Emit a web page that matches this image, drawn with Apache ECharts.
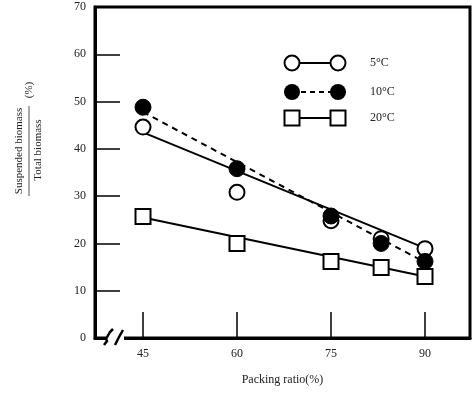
<!DOCTYPE html>
<html>
<head>
<meta charset="utf-8">
<script src="https://cdn.jsdelivr.net/npm/echarts@6/dist/echarts.min.js"></script>
<style>
html, body { margin: 0; padding: 0; background: #fff; }
#chart { width: 476px; height: 406px; }
</style>
</head>
<body>
<div id="chart"></div>
<script>
// packing ratio (%) where samples were taken
var ratios = [45, 60, 75, 83, 90]
var xTicks = [45, 60, 75, 90]
// suspended / total biomass (%)
var t5 = [44.6, 30.8, 24.8, 21.0, 18.9]
var t10 = [48.8, 35.8, 25.8, 20.0, 16.2]
var t20 = [25.7, 20.0, 16.2, 14.9, 13.0]
// fitted lines, start and end values
var fitX = [45, 90]
var fit5 = [43.5, 19.0]
var fit10 = [47.8, 16.0]
var fit20 = [25.5, 13.0]
var labels = ['5°C', '10°C', '20°C']

function pairs(xs, ys) {
  return xs.map(function (x, i) { return [x, ys[i]] })
}

var font = 'Liberation Serif'
var chart = echarts.init(document.getElementById('chart'))

var open = { color: '#fff', borderColor: '#000', borderWidth: 2, opacity: 1 }
var filled = { color: '#000', borderColor: '#000', borderWidth: 1, opacity: 1 }

chart.setOption({
  animation: false,
  grid: {
    left: 95, right: 6, top: 7, bottom: 68,
    show: true, borderColor: '#000', borderWidth: 3
  },
  xAxis: {
    type: 'value',
    min: 37.34, max: 97.18,
    name: 'Packing ratio(%)',
    nameLocation: 'middle',
    nameGap: 36,
    nameTextStyle: { fontFamily: font, fontSize: 12, color: '#222' },
    axisLine: { show: true, lineStyle: { color: '#000', width: 3 } },
    axisTick: { show: true, inside: true, length: 26, customValues: xTicks, lineStyle: { color: '#000', width: 1.5 } },
    axisLabel: { customValues: xTicks, margin: 10, fontFamily: font, fontSize: 12, color: '#222' },
    splitLine: { show: false }
  },
  yAxis: {
    type: 'value',
    min: 0, max: 70, interval: 10,
    axisLine: { show: true, lineStyle: { color: '#000', width: 3 } },
    axisTick: { show: true, inside: true, length: 25, lineStyle: { color: '#000', width: 1.5 } },
    axisLabel: { margin: 9, fontFamily: font, fontSize: 12, color: '#222' },
    splitLine: { show: false }
  },
  series: [
    {
      type: 'line', data: pairs(fitX, fit5), showSymbol: false, z: 1,
      lineStyle: { color: '#000', width: 2 }
    },
    {
      type: 'line', data: pairs(fitX, fit10), showSymbol: false, z: 1,
      lineStyle: { color: '#000', width: 2, type: [6, 5] }
    },
    {
      type: 'line', data: pairs(fitX, fit20), showSymbol: false, z: 1,
      lineStyle: { color: '#000', width: 2 }
    },
    {
      name: labels[0], type: 'scatter', data: pairs(ratios, t5), z: 3,
      symbol: 'circle', symbolSize: 15, itemStyle: open
    },
    {
      name: labels[1], type: 'scatter', data: pairs(ratios, t10), z: 4,
      symbol: 'circle', symbolSize: 16, itemStyle: filled
    },
    {
      name: labels[2], type: 'scatter', data: pairs(ratios, t20), z: 3,
      symbol: 'rect', symbolSize: 15, itemStyle: open
    }
  ],
  graphic: [
    // legend
    { type: 'line', shape: { x1: 292, y1: 63, x2: 338, y2: 63 }, style: { stroke: '#000', lineWidth: 2 } },
    { type: 'circle', shape: { cx: 292, cy: 63, r: 7.5 }, style: { fill: '#fff', stroke: '#000', lineWidth: 2 } },
    { type: 'circle', shape: { cx: 338, cy: 63, r: 7.5 }, style: { fill: '#fff', stroke: '#000', lineWidth: 2 } },
    { type: 'text', x: 370, y: 63, style: { text: labels[0], font: '12px "Liberation Serif"', fill: '#222', verticalAlign: 'middle' } },
    { type: 'line', shape: { x1: 292, y1: 92, x2: 338, y2: 92 }, style: { stroke: '#000', lineWidth: 2, lineDash: [5, 4] } },
    { type: 'circle', shape: { cx: 292, cy: 92, r: 8 }, style: { fill: '#000' } },
    { type: 'circle', shape: { cx: 338, cy: 92, r: 8 }, style: { fill: '#000' } },
    { type: 'text', x: 370, y: 92, style: { text: labels[1], font: '12px "Liberation Serif"', fill: '#222', verticalAlign: 'middle' } },
    { type: 'line', shape: { x1: 292, y1: 118, x2: 338, y2: 118 }, style: { stroke: '#000', lineWidth: 2 } },
    { type: 'rect', shape: { x: 284.5, y: 110.5, width: 15, height: 15 }, style: { fill: '#fff', stroke: '#000', lineWidth: 2 } },
    { type: 'rect', shape: { x: 330.5, y: 110.5, width: 15, height: 15 }, style: { fill: '#fff', stroke: '#000', lineWidth: 2 } },
    { type: 'text', x: 370, y: 118, style: { text: labels[2], font: '12px "Liberation Serif"', fill: '#222', verticalAlign: 'middle' } },
    // axis break marks
    { type: 'rect', shape: { x: 106, y: 335, width: 18, height: 6 }, style: { fill: '#fff' }, z: 100 },
    { type: 'polyline', shape: { points: [[106, 339], [110, 332], [113, 329]] }, style: { stroke: '#000', lineWidth: 2.5, fill: null }, z: 101 },
    { type: 'polyline', shape: { points: [[104, 345], [107, 341], [106, 339]] }, style: { stroke: '#000', lineWidth: 2.5, fill: null }, z: 101 },
    { type: 'polyline', shape: { points: [[115, 345], [119, 337], [123, 330]] }, style: { stroke: '#000', lineWidth: 2.5, fill: null }, z: 101 },
    // y-axis title as a fraction
    { type: 'text', x: 19, y: 151, rotation: Math.PI / 2, style: { text: 'Suspended biomass', font: '11px "Liberation Serif"', fill: '#222', align: 'center', verticalAlign: 'middle' } },
    { type: 'line', shape: { x1: 29, y1: 106, x2: 29, y2: 196 }, style: { stroke: '#555', lineWidth: 1 } },
    { type: 'text', x: 38, y: 150, rotation: Math.PI / 2, style: { text: 'Total biomass', font: '11px "Liberation Serif"', fill: '#222', align: 'center', verticalAlign: 'middle' } },
    { type: 'text', x: 29, y: 90, rotation: Math.PI / 2, style: { text: '(%)', font: '11px "Liberation Serif"', fill: '#222', align: 'center', verticalAlign: 'middle' } }
  ]
})
</script>
</body>
</html>
